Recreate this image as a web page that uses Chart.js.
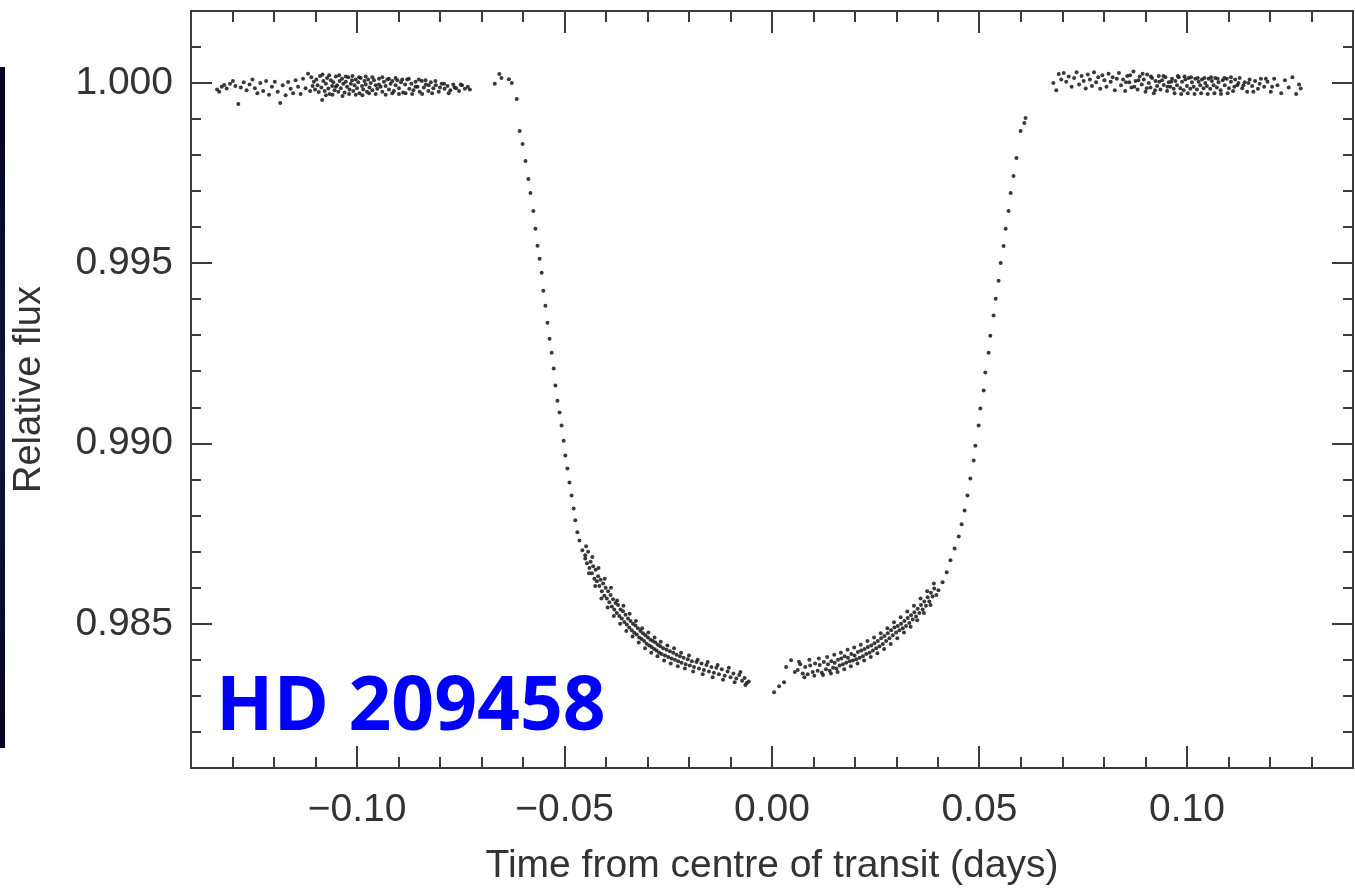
<!DOCTYPE html>
<html><head><meta charset="utf-8">
<script src="https://cdn.jsdelivr.net/npm/chart.js@4/dist/chart.umd.min.js"></script>
<style>html,body{margin:0;padding:0;background:#fff;}#wrap{width:1355px;height:892px;}</style>
</head><body><div id="wrap"><canvas id="c" width="1355" height="892"></canvas></div>
<script>
// ---- data (time from centre of transit [days], relative flux) ----
const baselineBefore = [
[-0.1337,0.99982],[-0.1332,0.99976],[-0.1326,0.99990],[-0.1320,0.99995],[-0.1314,0.99985],
[-0.1306,0.99998],[-0.1299,1.00006],[-0.1293,0.99992],[-0.1286,0.99942],[-0.1280,0.99988],
[-0.1273,1.00002],[-0.1266,0.99980],[-0.1259,0.99996],[-0.1252,1.00010],[-0.1246,0.99986],
[-0.1240,0.99972],[-0.1233,1.00000],[-0.1226,0.99978],[-0.1219,1.00006],[-0.1212,0.99968],
[-0.1205,0.99990],[-0.1198,1.00004],[-0.1191,0.99976],[-0.1185,0.99945],[-0.1179,0.99994],
[-0.1172,0.99966],[-0.1166,1.00003],[-0.1160,0.99984],[-0.1154,0.99972],[-0.1148,1.00008],
[-0.1142,0.99990],[-0.1136,0.99970],[-0.1130,1.00012],[-0.1124,0.99986],[-0.1118,1.00026],
[-0.1113,0.99978],[-0.1110,1.00016],[-0.1107,0.99992],[-0.1104,1.00004],[-0.1101,0.99982],
[-0.1098,1.00010],[-0.1095,0.99994],[-0.1092,0.99975],[-0.1089,1.00020],[-0.1086,0.99988],
[-0.1084,0.99953],[-0.1081,1.00006],[-0.1078,0.99978],[-0.1075,0.99998],[-0.1072,1.00014],
[-0.1069,0.99985],[-0.1066,0.99970],[-0.1063,1.00008],[-0.1060,0.99992],[-0.1057,1.00002],
[-0.1054,0.99980],[-0.1051,1.00018],[-0.1048,0.99994],[-0.1045,0.99976],[-0.1042,1.00006],
[-0.1039,0.99986],[-0.1036,1.00012],[-0.1033,0.99998],[-0.1030,0.99974],[-0.1027,1.00004],
[-0.1024,0.99990],[-0.1021,1.00016],[-0.1018,0.99982],[-0.1015,0.99998],[-0.1012,1.00008],
[-0.1009,0.99978],[-0.1006,0.99994],[-0.1003,1.00010],[-0.1000,0.99986],[-0.0997,1.00002],
[-0.0994,0.99972],[-0.0991,1.00014],[-0.0988,0.99992],[-0.0985,0.99982],[-0.0982,1.00006],
[-0.0979,0.99996],[-0.0976,0.99976],[-0.0973,1.00010],[-0.0970,0.99988],[-0.0967,1.00000],
[-0.0963,0.99980],[-0.0959,1.00008],[-0.0955,0.99994],[-0.0951,0.99984],[-0.0947,1.00012],
[-0.0943,0.99990],[-0.0939,0.99976],[-0.0935,1.00004],[-0.0931,0.99992],[-0.0927,1.00010],
[-0.0923,0.99982],[-0.0919,0.99998],[-0.0915,1.00006],[-0.0911,0.99978],[-0.0907,0.99994],
[-0.0903,1.00008],[-0.0899,0.99986],[-0.0894,1.00002],[-0.0889,0.99974],[-0.0884,0.99996],
[-0.0879,1.00010],[-0.0874,0.99984],[-0.0869,0.99998],[-0.0864,0.99980],[-0.0859,1.00004],
[-0.0854,0.99990],[-0.0849,0.99976],[-0.0844,1.00006],[-0.0839,0.99988],[-0.0834,0.99996],
[-0.0828,0.99978],[-0.0822,1.00002],[-0.0816,0.99986],[-0.0810,0.99994],[-0.0803,0.99976],
[-0.0796,0.99998],[-0.0789,0.99984],[-0.0782,0.99992],[-0.0775,0.99980],[-0.0768,0.99996],
[-0.0761,0.99986],[-0.0754,0.99978],[-0.0747,0.99994],[-0.0740,0.99984],[-0.0733,0.99990],
[-0.0728,0.99982],
[-0.1083,1.00024],[-0.1075,0.99966],[-0.1067,1.00022],[-0.1059,0.99968],[-0.1051,0.99990],
[-0.1043,1.00022],[-0.1035,0.99964],[-0.1027,1.00018],[-0.1019,0.99970],[-0.1011,1.00020],
[-0.1003,0.99968],[-0.0995,1.00016],[-0.0987,0.99966],[-0.0979,1.00018],[-0.0971,0.99972],
[-0.0963,1.00016],[-0.0955,0.99970],[-0.0947,0.99996],[-0.0939,1.00016],[-0.0931,0.99968],
[-0.0923,1.00012],[-0.0915,0.99972],[-0.0907,1.00014],[-0.0899,0.99970],[-0.0891,1.00010],
[-0.0883,0.99972],[-0.0875,1.00012],[-0.0867,0.99970],[-0.0859,0.99990],[-0.0851,1.00010],
[-0.0843,0.99970],[-0.0835,1.00008],[-0.0827,0.99994],[-0.0819,0.99972],[-0.0811,1.00006],
[-0.0800,0.99988],[-0.0790,0.99998],[-0.0779,0.99972],[-0.0765,0.99988],[-0.0750,0.99996],
[-0.0668,0.99998],[-0.0657,1.00025],[-0.0652,1.00014],[-0.0634,1.00011],[-0.0627,1.00000]
];
const ingress = [
[-0.0615,0.99956],[-0.0608,0.99867],[-0.0601,0.99831],[-0.0594,0.99784],[-0.0587,0.99734],
[-0.0582,0.99695],[-0.0575,0.99645],[-0.0570,0.99596],[-0.0565,0.99549],[-0.0560,0.99513],
[-0.0555,0.99474],[-0.0551,0.99424],[-0.0546,0.99382],[-0.0541,0.99335],[-0.0536,0.99291],
[-0.0531,0.99252],[-0.0526,0.99208],[-0.0522,0.99161],[-0.0517,0.99119],[-0.0512,0.99086],
[-0.0507,0.99050],[-0.0502,0.99008],[-0.0498,0.98967],[-0.0493,0.98931],[-0.0488,0.98892],
[-0.0483,0.98856],[-0.0478,0.98820],[-0.0474,0.98787],[-0.0469,0.98754],[-0.0464,0.98731],
[-0.0457,0.98704],[-0.0450,0.98681]
];
const bottomLeft = [
[-0.0450,0.98690],[-0.0446,0.98668],[-0.0443,0.98700],[-0.0440,0.98655],
[-0.0437,0.98672],[-0.0434,0.98640],[-0.0431,0.98660],[-0.0428,0.98625],[-0.0425,0.98650],[-0.0422,0.98618],
[-0.0419,0.98632],[-0.0416,0.98605],[-0.0413,0.98622],[-0.0410,0.98590],[-0.0407,0.98612],[-0.0404,0.98578],[-0.0401,0.98600],[-0.0398,0.98570],
[-0.0395,0.98590],[-0.0392,0.98560],[-0.0389,0.98580],[-0.0386,0.98548],[-0.0383,0.98568],[-0.0380,0.98540],[-0.0377,0.98558],
[-0.0374,0.98530],[-0.0371,0.98552],[-0.0368,0.98522],[-0.0365,0.98540],[-0.0362,0.98515],[-0.0359,0.98535],[-0.0356,0.98505],
[-0.0353,0.98525],[-0.0350,0.98498],[-0.0347,0.98515],[-0.0344,0.98490],[-0.0341,0.98508],[-0.0338,0.98482],[-0.0335,0.98500],
[-0.0332,0.98475],[-0.0329,0.98495],[-0.0326,0.98470],[-0.0323,0.98488],[-0.0320,0.98462],[-0.0317,0.98480],[-0.0314,0.98458],
[-0.0311,0.98474],[-0.0308,0.98452],[-0.0305,0.98468],[-0.0302,0.98445],[-0.0299,0.98462],[-0.0296,0.98440],[-0.0293,0.98456],
[-0.0290,0.98436],[-0.0287,0.98452],[-0.0284,0.98430],[-0.0281,0.98448],[-0.0278,0.98426],[-0.0275,0.98442],
[-0.0272,0.98420],[-0.0269,0.98438],[-0.0266,0.98416],[-0.0262,0.98432],[-0.0258,0.98412],[-0.0254,0.98428],
[-0.0250,0.98408],[-0.0246,0.98424],[-0.0242,0.98404],[-0.0238,0.98420],[-0.0234,0.98400],
[-0.0230,0.98414],[-0.0226,0.98396],[-0.0222,0.98410],[-0.0218,0.98392],[-0.0213,0.98406],
[-0.0208,0.98388],[-0.0203,0.98402],[-0.0198,0.98384],[-0.0193,0.98396],
[-0.0188,0.98380],[-0.0182,0.98394],[-0.0176,0.98376],[-0.0170,0.98390],
[-0.0164,0.98372],[-0.0158,0.98386],[-0.0152,0.98368],
[-0.0146,0.98380],[-0.0140,0.98364],[-0.0134,0.98378],
[-0.0128,0.98360],[-0.0121,0.98374],[-0.0114,0.98356],
[-0.0107,0.98368],[-0.0100,0.98352],[-0.0093,0.98362],
[-0.0086,0.98348],[-0.0079,0.98358],[-0.0072,0.98342],
[-0.0066,0.98350],[-0.0061,0.98336],[-0.0056,0.98340],
[-0.0448,0.98715],[-0.0441,0.98640],[-0.0433,0.98685],[-0.0426,0.98605],[-0.0418,0.98655],
[-0.0411,0.98570],[-0.0403,0.98625],[-0.0396,0.98545],[-0.0388,0.98600],[-0.0381,0.98522],
[-0.0373,0.98565],[-0.0366,0.98500],[-0.0358,0.98550],[-0.0351,0.98480],[-0.0343,0.98528],
[-0.0336,0.98465],[-0.0328,0.98508],[-0.0321,0.98448],[-0.0313,0.98488],[-0.0306,0.98432],
[-0.0298,0.98476],[-0.0291,0.98420],[-0.0283,0.98462],[-0.0276,0.98410],[-0.0268,0.98450],
[-0.0260,0.98398],[-0.0252,0.98440],[-0.0244,0.98390],[-0.0236,0.98432],[-0.0227,0.98382],
[-0.0219,0.98420],[-0.0210,0.98376],[-0.0200,0.98412],[-0.0190,0.98368],[-0.0179,0.98400],
[-0.0167,0.98360],[-0.0155,0.98394],[-0.0143,0.98352],[-0.0131,0.98386],[-0.0118,0.98345],
[-0.0104,0.98378],[-0.0090,0.98338],[-0.0076,0.98366],[-0.0064,0.98330]
];
const bottomRight = [
[0.0005,0.98310],[0.0017,0.98327],[0.0029,0.98338],[0.0034,0.98380],[0.0046,0.98399],[0.0055,0.98366],
[0.0062,0.98372],[0.0068,0.98388],[0.0074,0.98362],[0.0080,0.98380],[0.0086,0.98360],[0.0092,0.98384],[0.0098,0.98366],
[0.0104,0.98390],[0.0110,0.98370],[0.0115,0.98386],[0.0120,0.98364],[0.0125,0.98394],[0.0130,0.98374],
[0.0135,0.98388],[0.0139,0.98370],[0.0143,0.98396],[0.0147,0.98378],[0.0151,0.98392],[0.0155,0.98376],[0.0159,0.98400],
[0.0163,0.98384],[0.0167,0.98404],[0.0171,0.98388],[0.0175,0.98410],[0.0179,0.98392],[0.0183,0.98406],
[0.0187,0.98396],[0.0191,0.98416],[0.0195,0.98398],[0.0199,0.98412],[0.0203,0.98402],[0.0207,0.98422],
[0.0211,0.98406],[0.0215,0.98426],[0.0219,0.98410],[0.0223,0.98430],[0.0227,0.98416],[0.0231,0.98436],
[0.0235,0.98420],[0.0239,0.98440],[0.0243,0.98426],[0.0247,0.98446],[0.0251,0.98432],[0.0255,0.98452],
[0.0259,0.98438],[0.0263,0.98460],[0.0267,0.98444],[0.0271,0.98466],[0.0275,0.98452],[0.0279,0.98474],
[0.0283,0.98460],[0.0287,0.98482],[0.0291,0.98468],[0.0295,0.98490],[0.0299,0.98476],[0.0303,0.98494],
[0.0307,0.98482],[0.0311,0.98500],[0.0315,0.98488],[0.0319,0.98508],[0.0323,0.98494],[0.0327,0.98516],
[0.0331,0.98502],[0.0335,0.98524],[0.0339,0.98512],[0.0343,0.98532],[0.0347,0.98520],[0.0351,0.98542],
[0.0355,0.98530],[0.0359,0.98552],[0.0363,0.98540],[0.0367,0.98562],[0.0371,0.98550],[0.0375,0.98574],
[0.0379,0.98562],[0.0383,0.98586],[0.0387,0.98576],[0.0391,0.98598],
[0.0065,0.98395],[0.0078,0.98352],[0.0090,0.98400],[0.0102,0.98356],[0.0113,0.98404],
[0.0123,0.98358],[0.0133,0.98408],[0.0142,0.98362],[0.0150,0.98414],[0.0158,0.98366],
[0.0166,0.98420],[0.0174,0.98374],[0.0182,0.98428],[0.0190,0.98382],[0.0198,0.98434],
[0.0206,0.98390],[0.0214,0.98442],[0.0222,0.98398],[0.0230,0.98452],[0.0238,0.98408],
[0.0246,0.98462],[0.0254,0.98418],[0.0262,0.98474],[0.0270,0.98430],[0.0278,0.98488],
[0.0286,0.98444],[0.0294,0.98504],[0.0302,0.98460],[0.0310,0.98518],[0.0318,0.98476],
[0.0326,0.98534],[0.0334,0.98492],[0.0342,0.98550],[0.0350,0.98510],[0.0358,0.98570],
[0.0366,0.98530],[0.0374,0.98590],[0.0382,0.98552],[0.0390,0.98612],[0.0396,0.98580]
];
const egress = [
[0.0401,0.98593],[0.0411,0.98615],[0.0421,0.98643],[0.0430,0.98676],[0.0440,0.98709],
[0.0450,0.98742],[0.0457,0.98776],[0.0464,0.98814],[0.0471,0.98856],[0.0478,0.98903],
[0.0486,0.98953],[0.0490,0.98994],[0.0498,0.99050],[0.0502,0.99097],[0.0510,0.99147],
[0.0514,0.99197],[0.0522,0.99252],[0.0526,0.99299],[0.0534,0.99355],[0.0539,0.99402],
[0.0546,0.99452],[0.0551,0.99501],[0.0558,0.99548],[0.0563,0.99596],[0.0570,0.99645],
[0.0575,0.99695],[0.0582,0.99742],[0.0589,0.99792],[0.0599,0.99867],[0.0608,0.99889],
[0.0611,0.99903]
];
const baselineAfter = [
[0.0678,1.00000],[0.0685,0.99980],[0.0691,1.00025],[0.0697,1.00010],[0.0703,1.00028],[0.0709,1.00004],
[0.0715,1.00018],[0.0722,0.99990],[0.0728,1.00014],[0.0734,1.00030],[0.0740,0.99996],[0.0746,1.00020],
[0.0751,1.00006],[0.0756,0.99985],[0.0761,1.00024],[0.0766,1.00010],[0.0771,0.99992],[0.0776,1.00030],
[0.0781,1.00002],[0.0786,1.00016],[0.0791,0.99984],[0.0796,1.00022],[0.0801,1.00008],[0.0806,0.99990],
[0.0811,1.00026],[0.0816,1.00004],[0.0821,1.00016],[0.0826,0.99980],[0.0831,1.00012],[0.0836,1.00028],
[0.0841,0.99994],[0.0846,1.00010],[0.0851,0.99978],[0.0856,1.00020],[0.0861,1.00002],[0.0866,0.99988],
[0.0871,1.00032],[0.0876,1.00006],[0.0881,0.99982],[0.0886,1.00018],[0.0891,0.99996],[0.0896,1.00010],
[0.0900,0.99976],[0.0904,1.00024],[0.0908,1.00000],[0.0912,0.99988],[0.0916,1.00014],[0.0920,0.99972],
[0.0924,1.00006],[0.0928,0.99992],[0.0932,1.00020],[0.0936,0.99982],[0.0940,1.00008],[0.0944,0.99995],
[0.0948,1.00016],[0.0952,0.99978],[0.0956,1.00002],[0.0960,0.99990],[0.0964,1.00012],[0.0968,0.99984],
[0.0972,1.00006],[0.0976,0.99994],[0.0980,1.00016],[0.0984,0.99986],[0.0988,1.00004],[0.0992,0.99980],
[0.0996,1.00010],[0.1000,0.99992],[0.1004,1.00014],[0.1008,0.99984],[0.1012,1.00002],[0.1016,0.99990],
[0.1020,1.00012],[0.1024,0.99982],[0.1028,1.00004],[0.1032,0.99994],[0.1036,1.00010],[0.1040,0.99986],
[0.1044,1.00000],[0.1048,0.99992],[0.1052,1.00012],[0.1056,0.99984],[0.1060,1.00006],[0.1064,0.99994],
[0.1068,1.00014],[0.1072,0.99988],[0.1076,1.00002],[0.1081,0.99980],[0.1086,1.00008],[0.1091,0.99994],
[0.1096,1.00012],[0.1101,0.99986],[0.1106,1.00004],[0.1111,0.99978],[0.1116,1.00010],[0.1121,0.99994],
[0.1127,1.00014],[0.1133,0.99986],[0.1139,1.00002],[0.1145,0.99976],[0.1151,1.00010],[0.1157,0.99992],
[0.1164,1.00006],[0.1171,0.99984],[0.1178,1.00012],[0.1186,0.99990],[0.1194,1.00004],[0.1202,0.99976],
[0.1210,1.00012],[0.1218,0.99994],[0.1227,0.99972],[0.1236,1.00008],[0.1245,0.99988],[0.1254,1.00016],
[0.1263,0.99970],[0.1270,0.99996],[0.1274,0.99985],
[0.0853,1.00002],[0.0863,1.00022],[0.0873,0.99990],[0.0883,1.00008],[0.0893,1.00026],
[0.0903,0.99986],[0.0913,1.00018],[0.0923,0.99980],[0.0933,1.00004],[0.0943,1.00020],
[0.0953,0.99990],[0.0962,1.00004],[0.0970,0.99972],[0.0978,1.00020],[0.0986,0.99970],
[0.0994,1.00018],[0.1002,0.99972],[0.1010,1.00016],[0.1018,0.99970],[0.1026,1.00014],
[0.1034,0.99972],[0.1042,1.00014],[0.1050,0.99970],[0.1058,1.00016],[0.1066,0.99972],
[0.1074,1.00012],[0.1082,0.99970],[0.1090,1.00014],[0.1098,0.99972],[0.1106,1.00016],
[0.1114,0.99990],[0.1124,1.00000],[0.1136,0.99994],[0.1148,1.00000],[0.1160,0.99976],
[0.1175,0.99998],[0.1190,1.00012],[0.1205,0.99990]
];
const xTickValues = [-0.10, -0.05, 0.00, 0.05, 0.10];
const xTickLabels = ['\u22120.10', '\u22120.05', '0.00', '0.05', '0.10'];
const yTickValues = [0.985, 0.990, 0.995, 1.000];
const yTickLabels = ['0.985', '0.990', '0.995', '1.000'];
const xTitle = 'Time from centre of transit (days)';
const yTitle = 'Relative flux';
const starName = 'HD 209458';

// ---- chart ----
const segments = [baselineBefore, ingress, bottomLeft, bottomRight, egress, baselineAfter];
const points = segments.flat().map(p => ({x: p[0], y: p[1]}));
const FONT = '"Liberation Sans", Arial, sans-serif';
const TXT = '#333333';

const framePlugin = {
  id: 'frame',
  beforeDraw(chart) {
    const ctx = chart.ctx;
    ctx.save();
    ctx.fillStyle = '#ffffff';
    ctx.fillRect(0, 0, chart.width, chart.height);
    const g = ctx.createLinearGradient(0, 67, 0, 748);
    g.addColorStop(0, '#05051e'); g.addColorStop(0.5, '#12143a'); g.addColorStop(1, '#070720');
    ctx.fillStyle = g;
    ctx.fillRect(0, 67, 5, 681);
    ctx.restore();
  },
  afterDraw(chart) {
    const {ctx, chartArea: {left, right, top, bottom}, scales: {x, y}} = chart;
    ctx.save();
    ctx.strokeStyle = '#3c3c3c';
    ctx.lineWidth = 2;
    ctx.strokeRect(left, top, right - left, bottom - top);
    ctx.beginPath();
    for (let k = -13; k <= 13; k++) {
      const px = Math.round(x.getPixelForValue(k / 100));
      const L = (k % 5 === 0) ? 22 : 11;
      ctx.moveTo(px, bottom); ctx.lineTo(px, bottom - L);
      ctx.moveTo(px, top); ctx.lineTo(px, top + L);
    }
    for (let k = 982; k <= 1001; k++) {
      const py = Math.round(y.getPixelForValue(k / 1000));
      const L = (k % 5 === 0) ? 21 : 10;
      ctx.moveTo(left, py); ctx.lineTo(left + L, py);
      ctx.moveTo(right, py); ctx.lineTo(right - L, py);
    }
    ctx.stroke();
    ctx.fillStyle = '#0000ff';
    ctx.font = 'bold 75px "Open Sans", "Noto Sans", sans-serif';
    ctx.textAlign = 'left';
    ctx.textBaseline = 'alphabetic';
    ctx.fillText(starName, 216, 730);
    ctx.restore();
  }
};

new Chart(document.getElementById('c'), {
  type: 'scatter',
  data: { datasets: [{
    data: points,
    pointRadius: 2,
    pointHoverRadius: 2,
    pointBorderWidth: 0,
    backgroundColor: 'rgba(30,30,30,0.88)',
    borderColor: 'rgba(30,30,30,0.88)'
  }]},
  options: {
    responsive: false,
    animation: false,
    devicePixelRatio: 1,
    layout: { padding: { top: 11, right: 2, left: 0, bottom: 0 } },
    plugins: { legend: { display: false }, tooltip: { enabled: false } },
    scales: {
      x: {
        type: 'linear', position: 'bottom', min: -0.14, max: 0.14,
        afterBuildTicks: s => { s.ticks = xTickValues.map(v => ({value: v})); },
        afterFit: s => { s.height = 124; s.paddingLeft = 0; s.paddingRight = 0; },
        grid: { display: false, drawTicks: false },
        border: { display: false },
        ticks: {
          autoSkip: false, maxRotation: 0, minRotation: 0, padding: 19,
          color: TXT, font: { family: FONT, size: 39 },
          callback: (v, i) => xTickLabels[i]
        },
        title: { display: true, text: xTitle, color: TXT, font: { family: FONT, size: 39 }, padding: { top: 0, bottom: 2 } }
      },
      y: {
        type: 'linear', position: 'left', min: 0.981, max: 1.002,
        afterBuildTicks: s => { s.ticks = yTickValues.map(v => ({value: v})); },
        afterFit: s => { s.width = 191; s.paddingTop = 0; s.paddingBottom = 0; },
        grid: { display: false, drawTicks: false },
        border: { display: false },
        ticks: {
          autoSkip: false, padding: 18,
          color: TXT, font: { family: FONT, size: 39 },
          callback: (v, i) => yTickLabels[i]
        },
        title: { display: true, text: yTitle, color: TXT, font: { family: FONT, size: 38 }, padding: { top: 7, bottom: 0 } }
      }
    }
  },
  plugins: [framePlugin]
});
</script></body></html>
